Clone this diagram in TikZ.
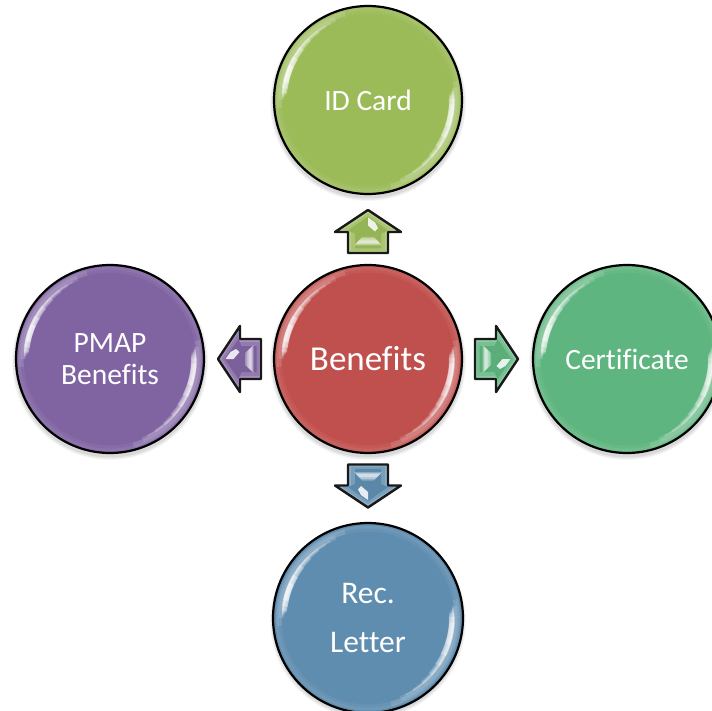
\documentclass[tikz,border=0pt]{standalone}
\usepackage{fontspec}
\setmainfont[Ligatures=CommonOff]{Carlito}
\usetikzlibrary{calc}
\definecolor{cred}{HTML}{C0504D}
\definecolor{cgreen}{HTML}{9BBB59}
\definecolor{cteal}{HTML}{5FB57F}
\definecolor{cblue}{HTML}{5F8DAF}
\definecolor{cpurple}{HTML}{8064A2}
\tikzset{
  x=1pt,y=-1pt,
  ball/.style={circle,minimum size=188pt,inner sep=0pt,draw=black,line width=2.2pt,text=white,align=center,font=\fontsize{29.5}{35}\selectfont},
  arrowline/.style={draw=black!90,line width=2.4pt,line join=round}
}
% shadow under a ball
\newcommand{\ballshadow}[1]{%
  \foreach \r/\o in {98/.03,97/.05,95.5/.07}{\fill[black,opacity=\o] ($(#1)+(0,3)$) circle[radius=\r];}%
}
% one arc about the ball centre, from angle a to angle b
\newcommand{\glowarc}[5]{%
  \draw[white,opacity=#5,line width=#4 pt] ({#3*cos(#1)},{-#3*sin(#1)}) arc[start angle=-#1,end angle=-#2,radius=#3];%
}
% rim glow and the two crescent highlights, over a named ball
\newcommand{\ballglow}[1]{%
  \begin{scope}[shift={(#1)}]
    \draw[white,opacity=.10,line width=3pt] (0,0) circle[radius=91];
    \draw[white,opacity=.05,line width=3pt] (0,0) circle[radius=88];
    \foreach \s/\e/\r/\w/\o in {
      105/185/89/5/.12, 112/180/87/5/.14,
      116/179/85.5/1.5/.2, 120/178/85/2.5/.2, 126/177/84.5/3.5/.22, 134/176/84/4.5/.25, 142/175/84/5.5/.3, 150/172/84/6/.35, 156/168/84/5/.45,
      -75/12/89/5/.12, -68/8/87/5/.14,
      -64/7/85.5/1.5/.2, -58/6/85/2.5/.2, -50/5/84.5/3.5/.2, -42/4/84/4.5/.22, -34/3/84/5.5/.28, -26/1/84/6/.32, -18/-3/84/5/.35
    }{\glowarc{\s}{\e}{\r}{\w}{\o}}
  \end{scope}%
}
% block arrow, drawn pointing up about its centre, then rotated
\newcommand{\blockarrow}[3]{%
  \begin{scope}[shift={(#1)},rotate=#2]
    \path[fill=#3!70!white,arrowline] (0,-21.5) -- (33,0.5) -- (20,0.5) -- (20,21.5) -- (-20,21.5) -- (-20,0.5) -- (-33,0.5) -- cycle;
    \fill[#3!85!white] (0,-18) -- (26,-1) -- (17,-1) -- (17,19.5) -- (-17,19.5) -- (-17,-1) -- (-26,-1) -- cycle;
    \fill[#3!96!black] (0,-15) -- (20,-1) -- (13,2) -- (13,17) -- (-13,17) -- (-13,2) -- (-20,-1) -- cycle;
    \fill[white,opacity=.85] (0,-14) -- (7,-9) -- (10,-3.5) -- (7,0) -- (0,-6) -- cycle;
    \fill[white,opacity=.3] (-6,5.5) -- (6,5.5) -- (14,14) -- (-14,14) -- cycle;
    \fill[white,opacity=.35] (-7,7) -- (7,7) -- (13,13) -- (-13,13) -- cycle;
    \fill[white,opacity=.4] (-9,9) -- (9,9) -- (12,12) -- (-12,12) -- cycle;
  \end{scope}%
}
\begin{document}
\begin{tikzpicture}
\useasboundingbox (0,0) rectangle (712,711);
\clip (0,0) rectangle (712,711);
\coordinate (ctop) at (368,100);
\coordinate (cleft) at (110,359);
\coordinate (cmid) at (368,359);
\coordinate (cright) at (627,359);
\coordinate (cbot) at (368,618);
\foreach \c in {ctop,cleft,cmid,cright,cbot}{\ballshadow{\c}}
\node[ball,fill=cgreen] (top) at (ctop) {ID Card};
\node[ball,fill=cpurple] (left) at (cleft) {PMAP\\[-3pt]Benefits};
\node[ball,fill=cred,font=\fontsize{35}{40}\selectfont] (mid) at (cmid) {Benefits};
\node[ball,fill=cteal] (right) at (cright) {Certificate};
\node[ball,fill=cblue,minimum size=190pt,font=\fontsize{31.5}{35}\selectfont] (bot) at (cbot) {Rec.\\[14pt]Letter};
\foreach \c in {ctop,cleft,cmid,cright,cbot}{\ballglow{\c}}
\blockarrow{368,231.5}{0}{cgreen}
\blockarrow{239.5,359}{90}{cpurple}
\blockarrow{496.5,359}{-90}{cteal}
\blockarrow{368,486}{180}{cblue}
\end{tikzpicture}
\end{document}
